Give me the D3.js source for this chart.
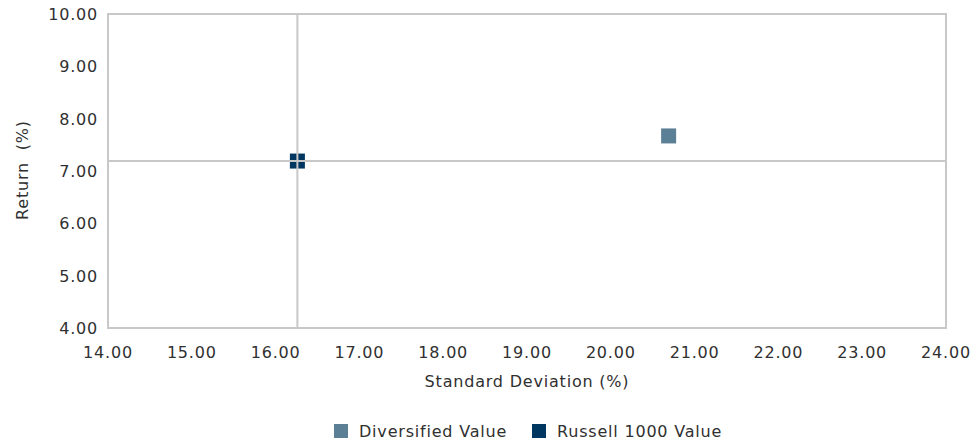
<!DOCTYPE html>
<html>
<head>
<meta charset="utf-8">
<script src="https://cdn.jsdelivr.net/npm/d3@7"></script>
<style>
  body { margin: 0; background: #fff; }
  svg text { font-family: "DejaVu Sans", sans-serif; fill: #303030; letter-spacing: 0.8px; }
</style>
</head>
<body>
<svg id="chart" width="972" height="443"></svg>
<script>
// series data
var seriesNames = ['Diversified Value', 'Russell 1000 Value'];
var seriesColors = ['#5b7f95', '#003761'];
var stdDev = [20.69, 16.26];
var returns = [7.67, 7.19];

// axis ticks
var xTicks = [14, 15, 16, 17, 18, 19, 20, 21, 22, 23, 24];
var yTicks = [4, 5, 6, 7, 8, 9, 10];

var svg = d3.select('#chart');
var margin = { left: 108, right: 26, top: 14, bottom: 115 };
var W = 972, H = 443;

var x = d3.scaleLinear().domain([14, 24]).range([margin.left, W - margin.right]);
var y = d3.scaleLinear().domain([4, 10]).range([H - margin.bottom, margin.top]);

var gridColor = '#c8c8c8';
var fs = 16;

// plot frame
svg.append('rect')
  .attr('x', x(14)).attr('y', y(10))
  .attr('width', x(24) - x(14)).attr('height', y(4) - y(10))
  .attr('fill', 'none').attr('stroke', gridColor).attr('stroke-width', 2);

// markers
var data = seriesNames.map(function(n, i) {
  return { name: n, sd: stdDev[i], ret: returns[i], color: seriesColors[i] };
});
var size = 15;
svg.append('g').selectAll('rect')
  .data(data)
  .enter().append('rect')
  .attr('x', function(d) { return x(d.sd) - size / 2; })
  .attr('y', function(d) { return y(d.ret) - size / 2; })
  .attr('width', size).attr('height', size)
  .attr('fill', function(d) { return d.color; });

// benchmark crosshair drawn over markers
var bench = data[1];
svg.append('line')
  .attr('x1', x(bench.sd)).attr('x2', x(bench.sd))
  .attr('y1', y(10)).attr('y2', y(4))
  .attr('stroke', gridColor).attr('stroke-width', 2);
svg.append('line')
  .attr('x1', x(14)).attr('x2', x(24))
  .attr('y1', y(bench.ret)).attr('y2', y(bench.ret))
  .attr('stroke', gridColor).attr('stroke-width', 2);

// tick labels
svg.append('g').selectAll('text')
  .data(xTicks).enter().append('text')
  .attr('x', function(d) { return x(d); })
  .attr('y', y(4) + 30)
  .attr('text-anchor', 'middle')
  .attr('font-size', fs)
  .text(function(d) { return d3.format('.2f')(d); });

svg.append('g').selectAll('text')
  .data(yTicks).enter().append('text')
  .attr('x', x(14) - 10)
  .attr('y', function(d) { return y(d) + 6; })
  .attr('text-anchor', 'end')
  .attr('font-size', fs)
  .text(function(d) { return d3.format('.2f')(d); });

// axis titles
svg.append('text')
  .attr('x', (x(14) + x(24)) / 2).attr('y', 387)
  .attr('text-anchor', 'middle').attr('font-size', fs)
  .text('Standard Deviation (%)');

svg.append('text')
  .attr('transform', 'translate(28,170) rotate(-90)')
  .attr('text-anchor', 'middle').attr('font-size', fs)
  .attr('xml:space', 'preserve')
  .style('white-space', 'pre')
  .text('Return  (%)');

// legend
var legendX = [334, 532];
var lg = svg.append('g').selectAll('g')
  .data(data).enter().append('g')
  .attr('transform', function(d, i) { return 'translate(' + legendX[i] + ',424)'; });
lg.append('rect').attr('width', 14).attr('height', 14)
  .attr('fill', function(d) { return d.color; });
lg.append('text').attr('x', 25).attr('y', 13).attr('font-size', fs)
  .text(function(d) { return d.name; });
</script>
</body>
</html>
